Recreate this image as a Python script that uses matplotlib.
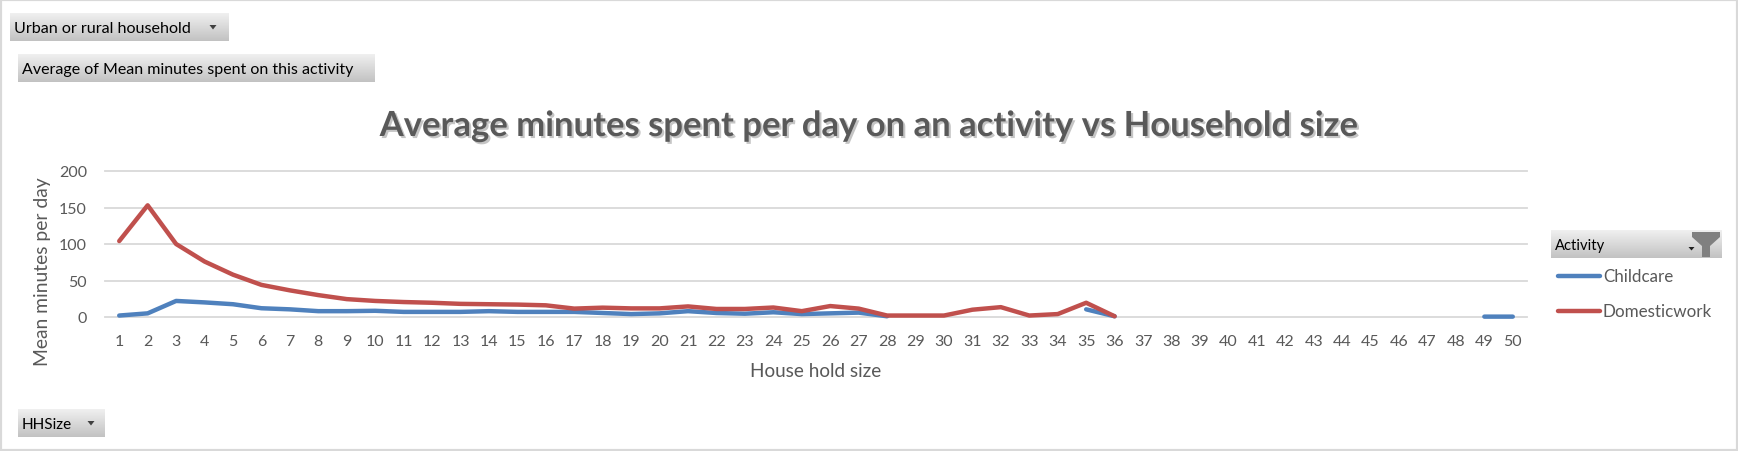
import numpy as np
import matplotlib
matplotlib.use('Agg')
import matplotlib.pyplot as plt
from matplotlib import transforms, patheffects
from matplotlib.patches import Polygon, Rectangle
from matplotlib.lines import Line2D
from matplotlib.colors import LinearSegmentedColormap

plt.rcParams['font.family'] = ['Lato', 'DejaVu Sans']

nan = np.nan
hh_size = list(range(1, 51))
childcare = [2, 5, 22, 20, 17.5, 12, 10.5, 8, 8, 8.5, 7, 7, 7, 8, 7, 7, 7, 5.5, 4, 5,
             8, 5.5, 4.5, 6.5, 4, 5, 6, 1, nan, nan, nan, nan, nan, nan, 10.5, 1,
             nan, nan, nan, nan, nan, nan, nan, nan, nan, nan, nan, nan, 0.5, 0.5]
domestic = [104, 153, 100, 76, 58, 44, 36.5, 30, 24.5, 22, 20.5, 19.5, 18, 17.5, 17, 16,
            11.5, 12.8, 11.8, 11.8, 14.5, 11, 11, 13, 8, 15, 11.5, 2, 2, 2, 10, 13.5,
            2, 4, 19.5, 1, nan, nan, nan, nan, nan, nan, nan, nan, nan, nan, nan, nan, nan, nan]
series_names = ['Childcare', 'Domesticwork']
colors = ['#4F81BD', '#C0504D']
title = 'Average minutes spent per day on an activity vs Household size'

W, H = 1738, 452
fig = plt.figure(figsize=(W / 100, H / 100), dpi=100)
# pixel coords measured from the top-left corner
px = transforms.Affine2D().scale(1 / W, -1 / H).translate(0, 1) + fig.transFigure
renderer = fig.canvas.get_renderer()


def fit(t, size, vertical=False):
    bb = t.get_window_extent(renderer)
    cur = bb.height if vertical else bb.width
    t.set_fontsize(t.get_fontsize() * size / cur)


btn_cmap = LinearSegmentedColormap.from_list('btn', ['#F0F0F0', '#C2C2C2'])


def button(x0, y0, x1, y1, label, width, arrow_x=None):
    bax = fig.add_axes([x0 / W, 1 - y1 / H, (x1 - x0) / W, (y1 - y0) / H])
    bax.imshow(np.linspace(0, 1, 64).reshape(-1, 1), cmap=btn_cmap, aspect='auto',
               extent=[0, 1, 0, 1])
    bax.set_axis_off()
    yc = (y0 + y1) / 2
    t = fig.text(x0 + 4, yc + 1, label, transform=px, va='center', ha='left',
                 color='black', fontsize=12)
    fit(t, width)
    if arrow_x is not None:
        fig.add_artist(Polygon([(arrow_x - 3.5, yc - 2), (arrow_x + 3.5, yc - 2), (arrow_x, yc + 2.5)],
                               closed=True, transform=px, fc='#404040', ec='none'))


# main chart
ax = fig.add_axes([105 / W, 1 - 318 / H, (1527 - 105) / W, (318 - 172) / H])
x = np.arange(len(hh_size))
for vals, c in zip([childcare, domestic], colors):
    ax.plot(x, vals, color=c, lw=3.2, solid_capstyle='round', solid_joinstyle='round',
            clip_on=False, zorder=3)
ax.set_xlim(-0.5, len(hh_size) - 0.5)
ax.set_ylim(0, 200)
ax.set_yticks([0, 50, 100, 150, 200])
ax.set_xticks(x)
ax.set_xticklabels(hh_size)
ax.grid(axis='y', color='#D9D9D9', lw=1.3)
ax.set_axisbelow(True)
for gl in ax.get_ygridlines():
    gl.set_clip_on(False)
for s in ax.spines.values():
    s.set_visible(False)
ax.tick_params(length=0, labelsize=11.5, labelcolor='#595959')
ax.tick_params(axis='x', pad=12)
ax.tick_params(axis='y', pad=13)

t = fig.text(869, 137, title, transform=px, ha='center', va='baseline', fontsize=26,
             weight='bold', color='#595959',
             path_effects=[patheffects.SimplePatchShadow(offset=(1.5, -1.5), shadow_rgbFace='#7F7F7F', alpha=0.45),
                           patheffects.Normal()])
fit(t, 978)

t = fig.text(816, 372, 'House hold size', transform=px, ha='center', va='center',
             fontsize=14, color='#595959')
fit(t, 131)
t = fig.text(43, 272, 'Mean minutes per day', transform=px, ha='center', va='center',
             rotation=90, fontsize=14, color='#595959')
fit(t, 189, vertical=True)

# pivot field buttons
button(10, 14, 228, 42, 'Urban or rural household', 177, arrow_x=213)
button(18, 55, 375, 83, 'Average of Mean minutes spent on this activity', 330)
button(18, 410, 105, 438, 'HHSize', 50, arrow_x=91)
button(1551, 231, 1722, 259, 'Activity', 50)
fig.add_artist(Polygon([(1692, 233), (1720, 233), (1720, 238), (1710, 247), (1710, 258),
                        (1702, 258), (1702, 247), (1692, 238)],
                       closed=True, transform=px, fc='#808080', ec='none'))
fig.add_artist(Polygon([(1688.5, 248), (1694.5, 248), (1691.5, 251.5)], closed=True,
                       transform=px, fc='#202020', ec='none'))

# legend
for name, c, y, w in zip(series_names, colors, [276.7, 312], [70, 109]):
    fig.add_artist(Line2D([1558, 1600], [y, y], transform=px, color=c, lw=3.2,
                          solid_capstyle='round'))
    t = fig.text(1603, y, name, transform=px, ha='left', va='center', fontsize=13,
                 color='#595959')
    fit(t, w)

fig.add_artist(Rectangle((0, 0), 1, 1, transform=fig.transFigure, fill=False,
                         ec='#D9D9D9', lw=3))

fig.savefig('out.png', dpi=100)
